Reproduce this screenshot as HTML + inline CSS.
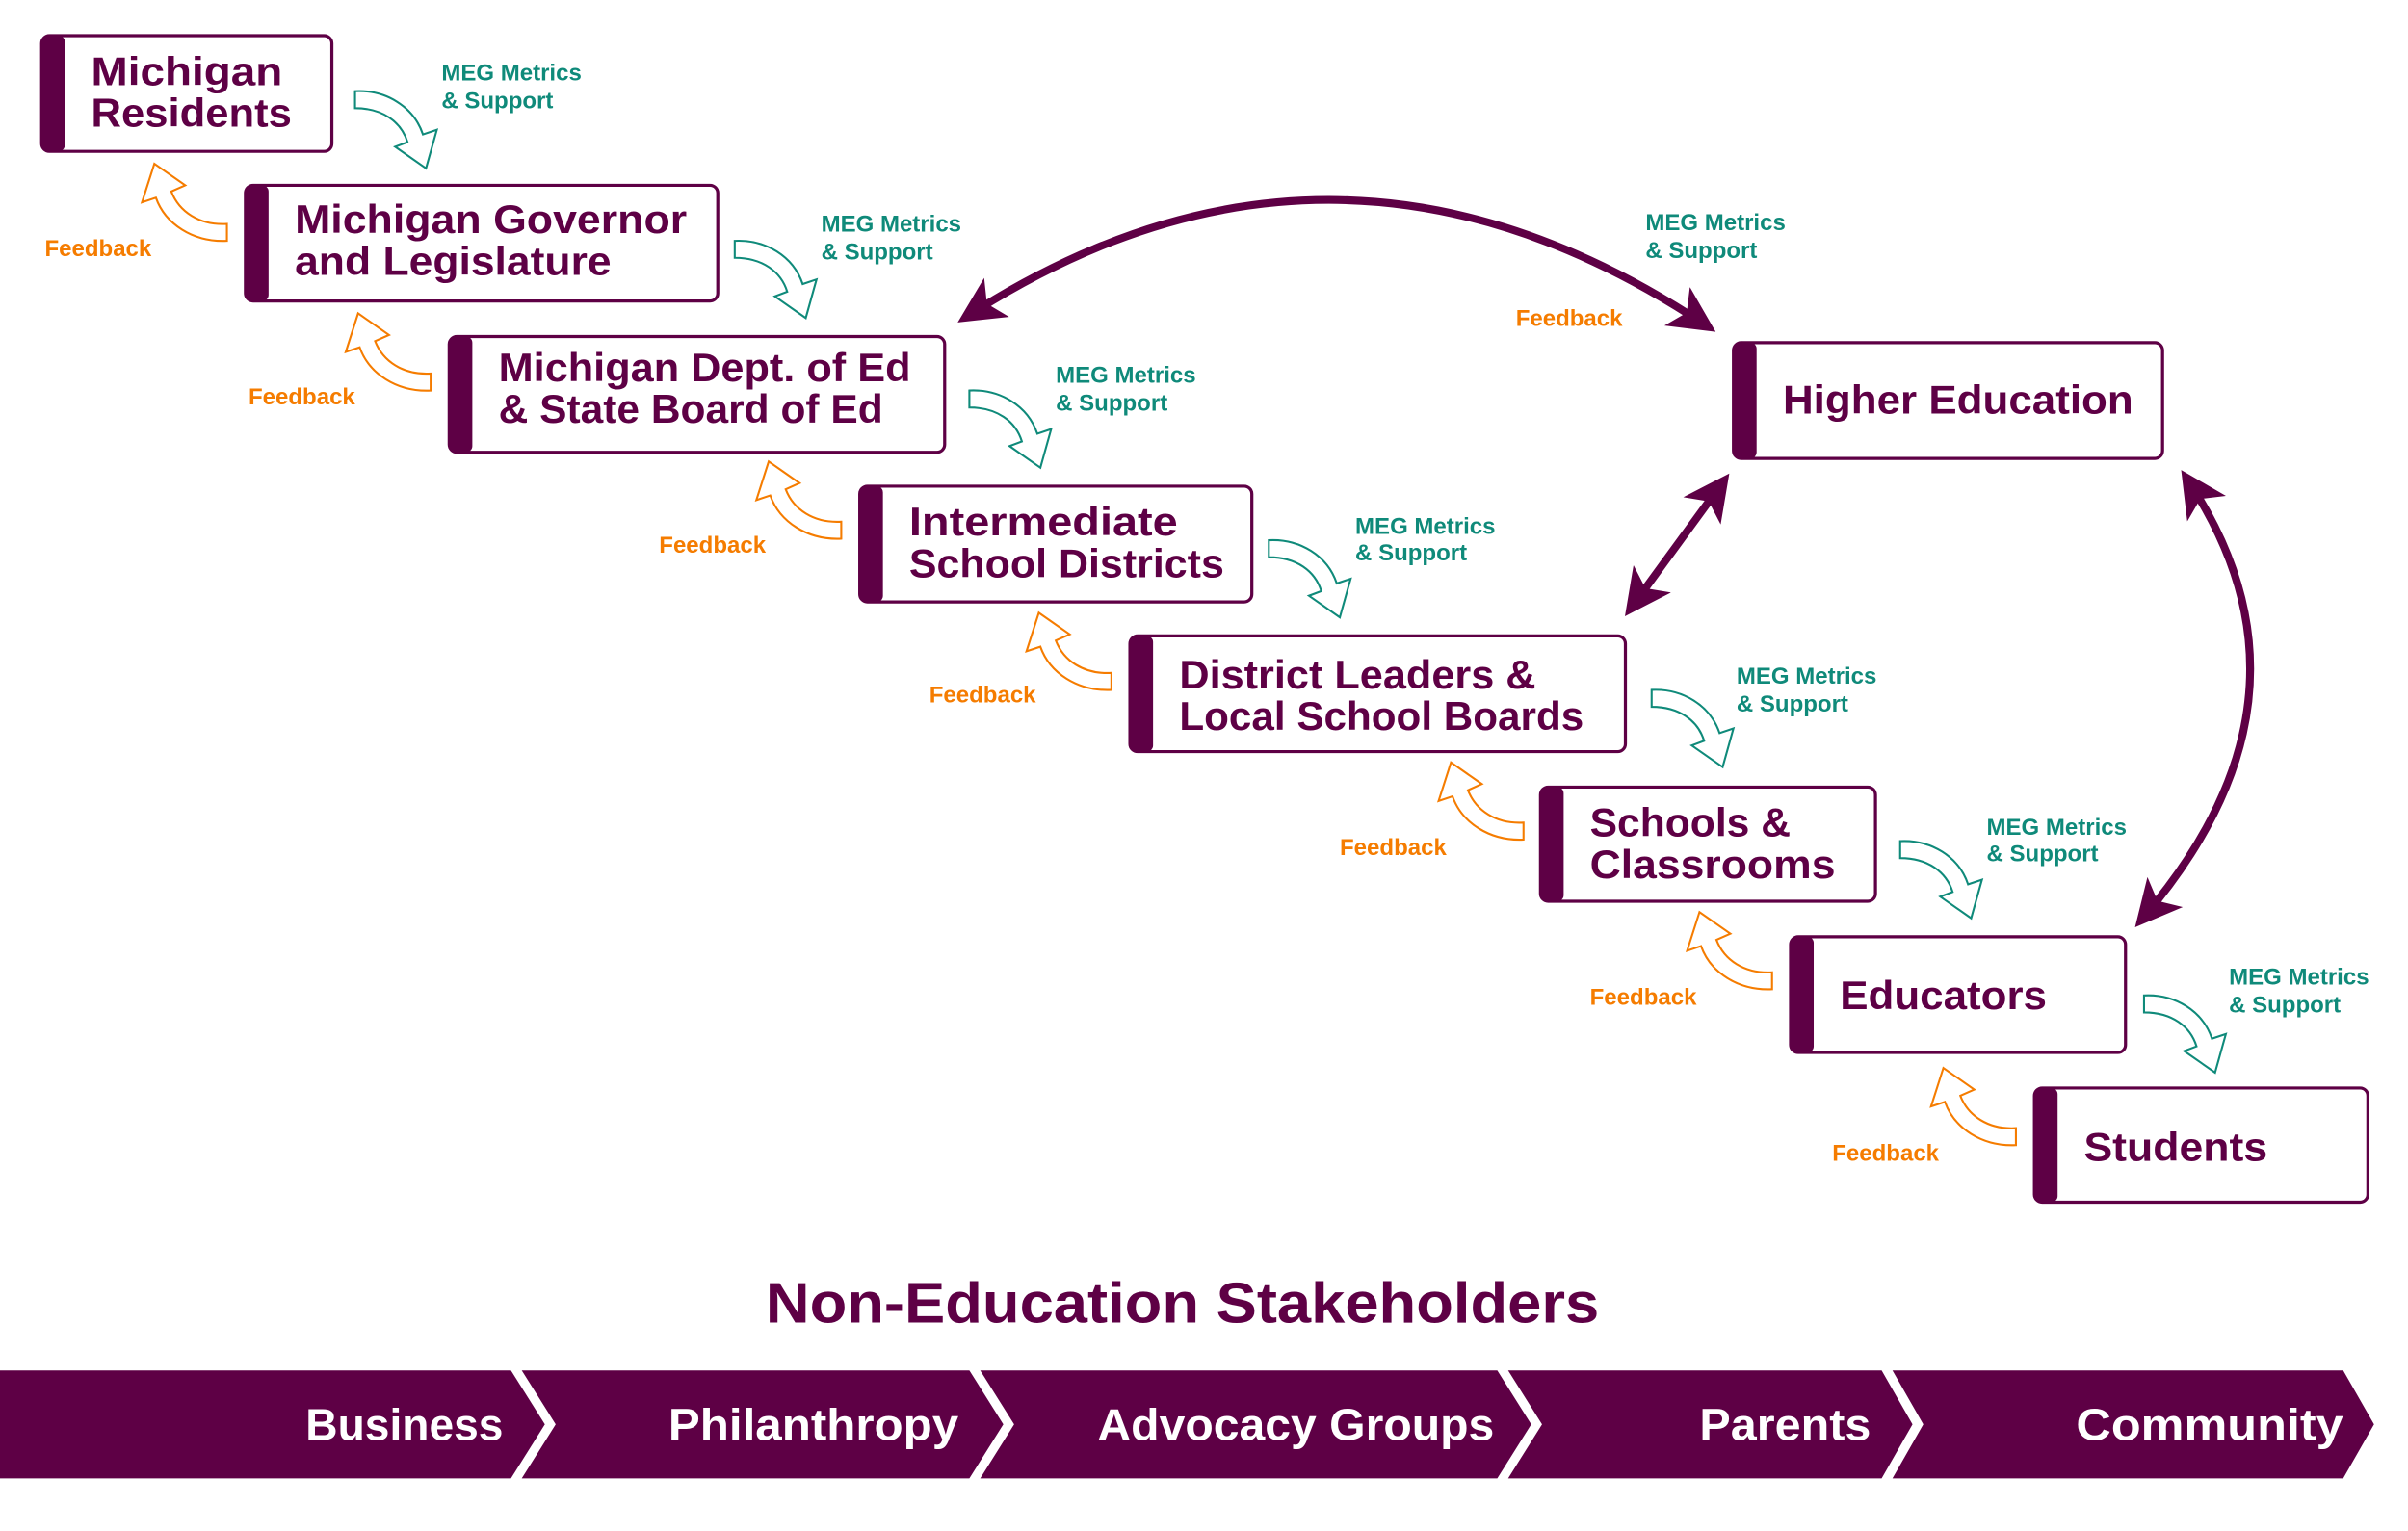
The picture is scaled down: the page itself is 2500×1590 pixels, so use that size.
<!DOCTYPE html>
<html><head><meta charset="utf-8"><style>
html,body{margin:0;padding:0;background:#fff;}
svg{display:block;}
text{font-family:"Liberation Sans",sans-serif;font-weight:bold;}
.bt{fill:#5e0045;font-size:26px;}
.meg{fill:#0f8a7a;font-size:15px;}
.fb{fill:#f57c00;font-size:15px;}
.bn{fill:#fff;font-size:29px;}
</style></head><body>
<svg width="2500" height="1590" viewBox="0 0 1560 992" xmlns="http://www.w3.org/2000/svg">
<defs>
<marker id="ah" viewBox="0 0 20 20" refX="14" refY="10" markerWidth="6" markerHeight="6" orient="auto-start-reverse" markerUnits="strokeWidth">
<path d="M0,0 L20,10 L0,20 L5,10 Z" fill="#5e0045"/>
</marker>
<path id="teal" d="M0,0 C20,-1 38,10 44,28 L53,25 L46,50 L26,36 L34,33 C30,20 18,11 0,11 Z" fill="#fff" stroke="#0f8a7a" stroke-width="1.3" stroke-linejoin="miter"/>
<path id="orng" d="M0,0 C-18,1 -31,-8 -36,-21 L-27,-25 L-47,-39 L-55,-14 L-46,-17 C-40,0 -22,12 0,11 Z" fill="#fff" stroke="#f57c00" stroke-width="1.3"/>
</defs>

<!-- big arrows -->
<path d="M628,204 Q865,52 1104,210" fill="none" stroke="#5e0045" stroke-width="5" marker-start="url(#ah)" marker-end="url(#ah)"/>
<path d="M1115,314 L1058,392" fill="none" stroke="#5e0045" stroke-width="5" marker-start="url(#ah)" marker-end="url(#ah)"/>
<path d="M1418,312 Q1510,452 1389,594" fill="none" stroke="#5e0045" stroke-width="5" marker-start="url(#ah)" marker-end="url(#ah)"/>

<!-- boxes -->
<g stroke="#5e0045" stroke-width="2" fill="#fff">
<rect x="27" y="23" width="188" height="75" rx="5"/>
<rect x="159" y="120" width="306" height="75" rx="5"/>
<rect x="291" y="218" width="321" height="75" rx="5"/>
<rect x="557" y="315" width="254" height="75" rx="5"/>
<rect x="732" y="412" width="321" height="75" rx="5"/>
<rect x="998" y="510" width="217" height="74" rx="5"/>
<rect x="1160" y="607" width="217" height="75" rx="5"/>
<rect x="1318" y="705" width="216" height="74" rx="5"/>
<rect x="1123" y="222" width="278" height="75" rx="5"/>
</g>
<g fill="#5e0045">
<rect x="27" y="23" width="15" height="75" rx="4"/>
<rect x="159" y="120" width="15" height="75" rx="4"/>
<rect x="291" y="218" width="15" height="75" rx="4"/>
<rect x="557" y="315" width="15" height="75" rx="4"/>
<rect x="732" y="412" width="15" height="75" rx="4"/>
<rect x="998" y="510" width="15" height="74" rx="4"/>
<rect x="1160" y="607" width="15" height="75" rx="4"/>
<rect x="1318" y="705" width="15" height="74" rx="4"/>
<rect x="1123" y="222" width="15" height="75" rx="4"/>
</g>

<g class="bt">
<text x="59" y="55" textLength="124" lengthAdjust="spacingAndGlyphs" class="bt">Michigan</text>
<text x="59" y="82" textLength="130" lengthAdjust="spacingAndGlyphs" class="bt">Residents</text>
<text x="191" y="151" textLength="254" lengthAdjust="spacingAndGlyphs" class="bt">Michigan Governor</text>
<text x="191" y="178" textLength="205" lengthAdjust="spacingAndGlyphs" class="bt">and Legislature</text>
<text x="323" y="247" textLength="267" lengthAdjust="spacingAndGlyphs" class="bt">Michigan Dept. of Ed</text>
<text x="323" y="274" textLength="249" lengthAdjust="spacingAndGlyphs" class="bt">&amp; State Board of Ed</text>
<text x="589" y="347" textLength="174" lengthAdjust="spacingAndGlyphs" class="bt">Intermediate</text>
<text x="589" y="374" textLength="204" lengthAdjust="spacingAndGlyphs" class="bt">School Districts</text>
<text x="764" y="446" textLength="231" lengthAdjust="spacingAndGlyphs" class="bt">District Leaders &amp;</text>
<text x="764" y="473" textLength="262" lengthAdjust="spacingAndGlyphs" class="bt">Local School Boards</text>
<text x="1030" y="542" textLength="130" lengthAdjust="spacingAndGlyphs" class="bt">Schools &amp;</text>
<text x="1030" y="569" textLength="159" lengthAdjust="spacingAndGlyphs" class="bt">Classrooms</text>
<text x="1192" y="654" textLength="134" lengthAdjust="spacingAndGlyphs" class="bt">Educators</text>
<text x="1350" y="752" textLength="119" lengthAdjust="spacingAndGlyphs" class="bt">Students</text>
<text x="1155" y="268" textLength="227" lengthAdjust="spacingAndGlyphs" class="bt">Higher Education</text>
</g>

<!-- teal arrows -->
<use href="#teal" x="230" y="59"/>
<use href="#teal" x="476" y="156"/>
<use href="#teal" x="628" y="253"/>
<use href="#teal" x="822" y="350"/>
<use href="#teal" x="1070" y="447"/>
<use href="#teal" x="1231" y="545"/>
<use href="#teal" x="1389" y="645"/>
<!-- orange arrows -->
<use href="#orng" x="147" y="145"/>
<use href="#orng" x="279" y="242"/>
<use href="#orng" x="545" y="338"/>
<use href="#orng" x="720" y="436"/>
<use href="#orng" x="987" y="533"/>
<use href="#orng" x="1148" y="630"/>
<use href="#orng" x="1306" y="731"/>

<!-- MEG labels -->
<g class="meg">
<text class="meg" x="286" y="52">MEG Metrics</text><text class="meg" x="286" y="70">&amp; Support</text>
<text class="meg" x="532" y="150">MEG Metrics</text><text class="meg" x="532" y="168">&amp; Support</text>
<text class="meg" x="684" y="248">MEG Metrics</text><text class="meg" x="684" y="266">&amp; Support</text>
<text class="meg" x="878" y="346">MEG Metrics</text><text class="meg" x="878" y="363">&amp; Support</text>
<text class="meg" x="1125" y="443">MEG Metrics</text><text class="meg" x="1125" y="461">&amp; Support</text>
<text class="meg" x="1287" y="541">MEG Metrics</text><text class="meg" x="1287" y="558">&amp; Support</text>
<text class="meg" x="1444" y="638">MEG Metrics</text><text class="meg" x="1444" y="656">&amp; Support</text>
<text class="meg" x="1066" y="149">MEG Metrics</text><text class="meg" x="1066" y="167">&amp; Support</text>
</g>
<g>
<text class="fb" x="29" y="166">Feedback</text>
<text class="fb" x="161" y="262">Feedback</text>
<text class="fb" x="427" y="358">Feedback</text>
<text class="fb" x="602" y="455">Feedback</text>
<text class="fb" x="868" y="554">Feedback</text>
<text class="fb" x="1030" y="651">Feedback</text>
<text class="fb" x="1187" y="752">Feedback</text>
<text class="fb" x="982" y="211">Feedback</text>
</g>

<text x="496" y="857" textLength="540" lengthAdjust="spacingAndGlyphs" style="fill:#5e0045;font-size:37px;">Non-Education Stakeholders</text>

<g fill="#5e0045">
<polygon points="0,888 331,888 353,923 331,958 0,958"/>
<polygon points="338,888 628,888 650,923 628,958 338,958 360,923"/>
<polygon points="635,888 970,888 992,923 970,958 635,958 657,923"/>
<polygon points="977,888 1219,888 1239,923 1219,958 977,958 999,923"/>
<polygon points="1226,888 1518,888 1538,923 1518,958 1226,958 1246,923"/>
</g>
<text class="bn" x="198" y="933" textLength="128" lengthAdjust="spacingAndGlyphs">Business</text>
<text class="bn" x="433" y="933" textLength="188" lengthAdjust="spacingAndGlyphs">Philanthropy</text>
<text class="bn" x="711" y="933" textLength="257" lengthAdjust="spacingAndGlyphs">Advocacy Groups</text>
<text class="bn" x="1101" y="933" textLength="111" lengthAdjust="spacingAndGlyphs">Parents</text>
<text class="bn" x="1345" y="933" textLength="173" lengthAdjust="spacingAndGlyphs">Community</text>
</svg>
</body></html>
